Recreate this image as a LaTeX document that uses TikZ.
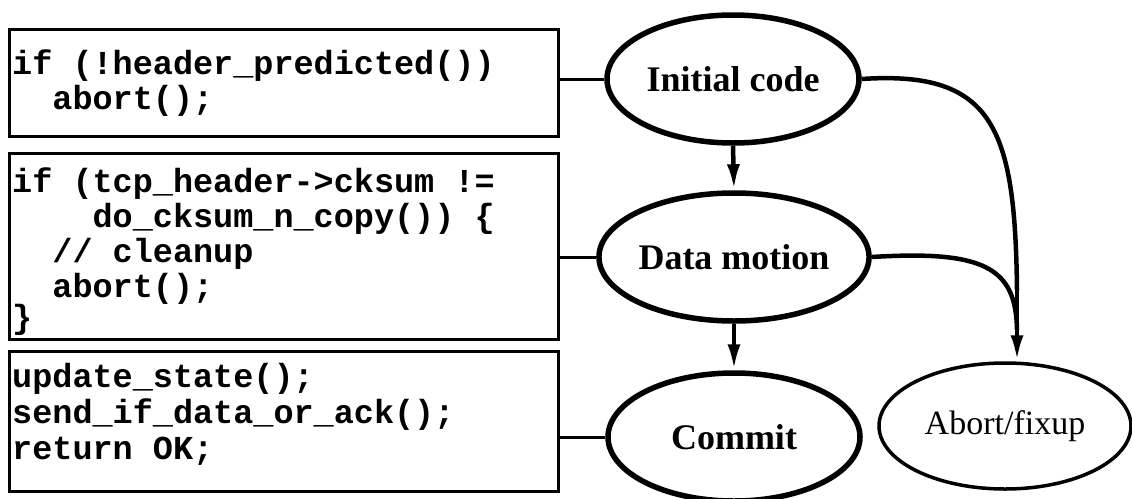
\documentclass[tikz,border=0pt]{standalone}
\usepackage{fontspec}
\setmainfont{Liberation Serif}
\newfontfamily\codefont{Liberation Mono}
\usetikzlibrary{arrows.meta,shapes.geometric}
\begin{document}
\begin{tikzpicture}[x=1pt,y=-1pt,
  codebox/.style={draw,line width=3pt,anchor=north west,inner sep=0pt},
  codetext/.style={anchor=west,font=\codefont\bfseries\fontsize{33.5}{35}\selectfont,inner sep=0pt},
  stage/.style={draw,ellipse,line width=5.5pt,minimum width=252pt,minimum height=128pt,inner sep=0pt,font=\bfseries\fontsize{36}{40}\selectfont},
  fixstage/.style={draw,ellipse,line width=3.5pt,minimum width=252pt,minimum height=126pt,inner sep=0pt,font=\fontsize{34}{38}\selectfont},
  link/.style={line width=3pt},
  curve/.style={line width=4.5pt},
  flow/.style={line width=4.5pt,-{Latex[length=26pt,width=13pt]}}
]
\useasboundingbox (0,0) rectangle (1132,498);
% code boxes
\node[codebox,minimum width=549pt,minimum height=107pt] (b1) at (8,28) {};
\node[codebox,minimum width=549pt,minimum height=186pt] (b2) at (8,152) {};
\node[codebox,minimum width=549pt,minimum height=140pt] (b3) at (8,350) {};
% code text
\node[codetext] (t11) at (12,66) {if (!header\_predicted())};
\node[codetext] (t12) at (12,101) {\ \ abort();};
\node[codetext] (t21) at (12,184) {if (tcp\_header->cksum !=};
\node[codetext] (t22) at (12,219) {\ \ \ \ do\_cksum\_n\_copy()) \{};
\node[codetext] (t23) at (12,254) {\ \ // cleanup};
\node[codetext] (t24) at (12,289) {\ \ abort();};
\node[codetext] (t25) at (12,320) {\}};
\node[codetext] (t31) at (12,379) {update\_state();};
\node[codetext] (t32) at (12,415) {send\_if\_data\_or\_ack();};
\node[codetext] (t33) at (12,451) {return OK;};
% stages
\node[stage] (init) at (733,79) {Initial code};
\node[stage] (data) at (734,257) {Data motion};
\node[stage] (commit) at (734,437) {Commit};
\node[fixstage] (fix) at (1005,426) {Abort/fixup};
% links
\draw[link] (b1.east |- init.west) -- (init.west);
\draw[link] (b2.east |- data.west) -- (data.west);
\draw[link] (b3.east |- commit.west) -- (commit.west);
% flows
\draw[flow] (init.south) -- (data.north);
\draw[flow] (data.south) -- (commit.north);
\coordinate (m1) at (1017,290);
\draw[curve] (init.east) .. controls (995,70) and (1015,130) .. (m1);
\draw[curve] (data.east) .. controls (985,250) and (1016,268) .. (1017,330);
\draw[flow] (m1) -- (fix.north -| m1);
\end{tikzpicture}
\end{document}
